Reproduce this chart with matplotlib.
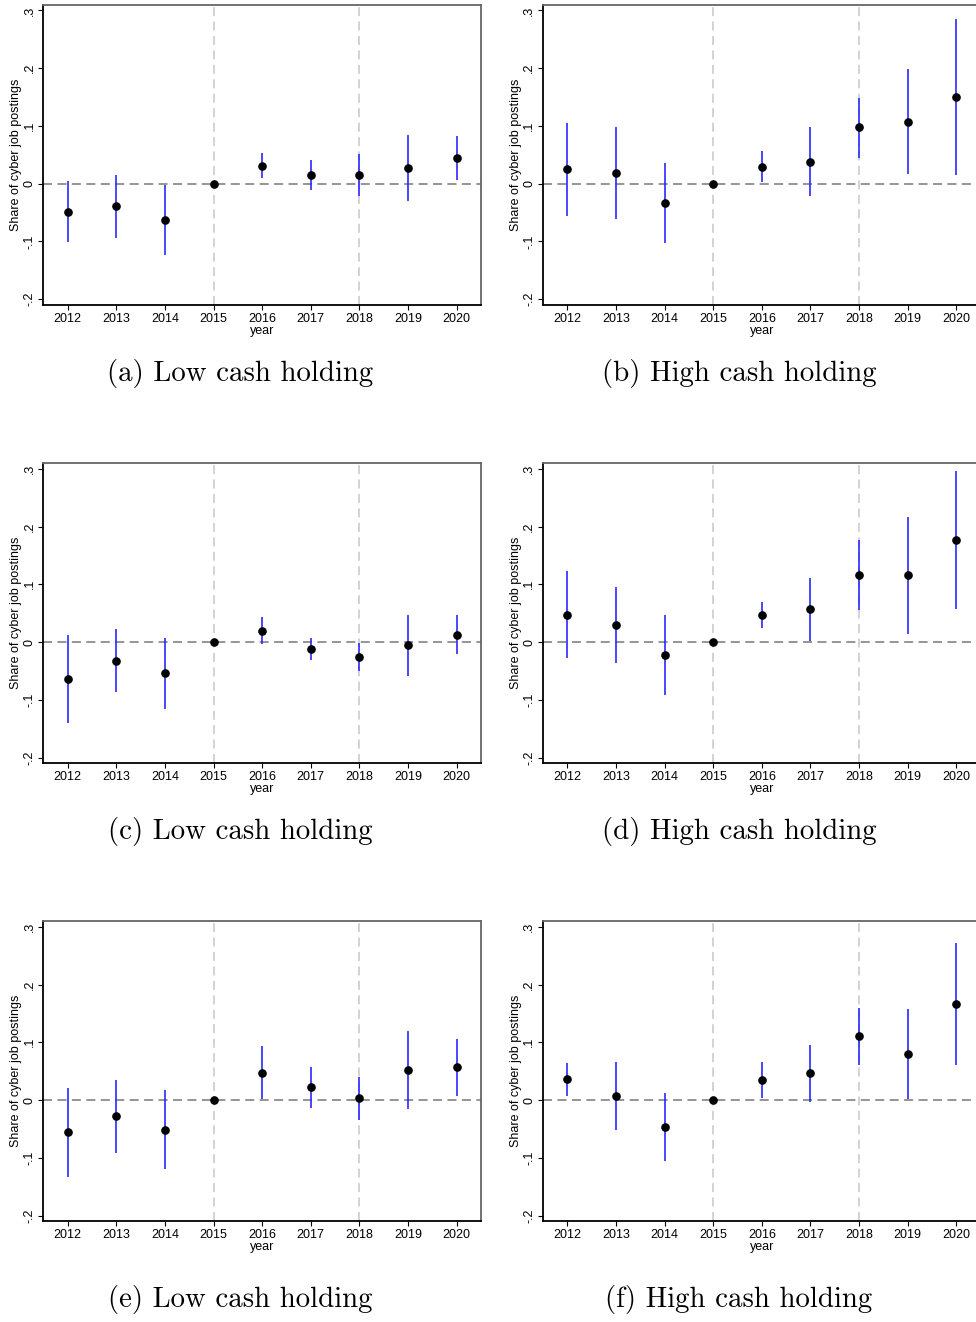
import numpy as np
import matplotlib
matplotlib.use("Agg")
import matplotlib.pyplot as plt

years = [2012, 2013, 2014, 2015, 2016, 2017, 2018, 2019, 2020]
ytick_vals = [-0.2, -0.1, 0, 0.1, 0.2, 0.3]
ytick_labels = ["-.2", "-.1", "0", ".1", ".2", ".3"]
captions = ["(a) Low cash holding", "(b) High cash holding",
            "(c) Low cash holding", "(d) High cash holding",
            "(e) Low cash holding", "(f) High cash holding"]

# point estimates and 95% CI bounds, one list per panel
coef_a = [-0.0485, -0.039, -0.0625, 0, 0.031, 0.0146, 0.0146, 0.0275, 0.0444]
lo_a = [-0.101, -0.094, -0.1227, 0, 0.0099, -0.0117, -0.022, -0.0298, 0.0058]
hi_a = [0.0041, 0.0158, -0.0018, 0, 0.053, 0.0415, 0.0514, 0.0847, 0.083]

coef_b = [0.025, 0.0187, -0.0339, 0, 0.0292, 0.038, 0.0975, 0.1075, 0.1507]
lo_b = [-0.0567, -0.0607, -0.1034, 0, 0.0023, -0.0216, 0.045, 0.017, 0.0158]
hi_b = [0.106, 0.0987, 0.0356, 0, 0.0567, 0.0975, 0.149, 0.1986, 0.2856]

coef_c = [-0.0637, -0.0322, -0.0544, 0, 0.0199, -0.0117, -0.0257, -0.0058, 0.0129]
lo_c = [-0.1398, -0.0865, -0.1152, 0, -0.0041, -0.0304, -0.0503, -0.0596, -0.021]
hi_c = [0.0123, 0.0222, 0.007, 0, 0.0439, 0.007, -0.0012, 0.0474, 0.0468]

coef_d = [0.0474, 0.0292, -0.0228, 0, 0.0468, 0.0567, 0.1158, 0.1152, 0.176]
lo_d = [-0.0269, -0.0368, -0.0918, 0, 0.0251, 0.0018, 0.055, 0.0146, 0.0573]
hi_d = [0.1222, 0.0947, 0.0468, 0, 0.069, 0.1117, 0.1766, 0.2158, 0.2953]

coef_e = [-0.056, -0.028, -0.0514, 0, 0.0473, 0.0222, 0.0029, 0.052, 0.0567]
lo_e = [-0.1338, -0.0911, -0.1186, 0, 0.0023, -0.0134, -0.035, -0.0164, 0.007]
hi_e = [0.0216, 0.035, 0.0169, 0, 0.0929, 0.0578, 0.0403, 0.1203, 0.1063]

coef_f = [0.0356, 0.0064, -0.047, 0, 0.0345, 0.046, 0.110, 0.080, 0.1665]
lo_f = [0.007, -0.0526, -0.106, 0, 0.0035, -0.0035, 0.061, 0.002, 0.061]
hi_f = [0.0648, 0.066, 0.0123, 0, 0.066, 0.096, 0.159, 0.157, 0.2716]

panels = [(coef_a, lo_a, hi_a), (coef_b, lo_b, hi_b),
          (coef_c, lo_c, hi_c), (coef_d, lo_d, hi_d),
          (coef_e, lo_e, hi_e), (coef_f, lo_f, hi_f)]

W, H = 976, 1322
fig = plt.figure(figsize=(W / 100, H / 100), dpi=100)

lefts = [43.3, 543.0]
tops = [4.7, 463.0, 921.0]
ax_w, ax_h = 437.7, 300.3
cap_x = [240, 739]
cap_y = [374, 832, 1300]

for i, (coef, lo, hi) in enumerate(panels):
    row, col = divmod(i, 2)
    l = lefts[col] / W
    b = 1 - (tops[row] + ax_h) / H
    ax = fig.add_axes([l, b, ax_w / W, ax_h / H])
    ax.set_xlim(2011.5, 2020.5)
    ax.set_ylim(-0.21, 0.31)

    ax.axhline(0, color="#8c8c8c", lw=1.3, ls=(0, (5, 3)), zorder=1)
    for xv in [2015, 2018]:
        ax.axvline(xv, color="#d0d0d0", lw=1.3, ls=(0, (5, 3)), zorder=1)

    ax.vlines(years, lo, hi, color="#2a2aff", lw=1.2, zorder=2)
    ax.plot(years, coef, "o", color="black", ms=5.2, zorder=3)

    ax.set_xticks(years)
    ax.set_xticklabels([str(y) for y in years], fontsize=9, family="Liberation Sans")
    ax.set_yticks(ytick_vals)
    ax.set_yticklabels(ytick_labels, fontsize=9, family="Liberation Sans",
                       rotation=90, va="center")
    ax.tick_params(axis="both", length=3.5, width=0.8, pad=2)
    ax.set_xlabel("year", fontsize=9, family="Liberation Sans", labelpad=0)
    ax.set_ylabel("Share of cyber job postings", fontsize=9,
                  family="Liberation Sans", labelpad=1)

    for s in ["left", "bottom"]:
        ax.spines[s].set_color("black")
        ax.spines[s].set_linewidth(1.3)
    for s in ["top", "right"]:
        ax.spines[s].set_color("#666666")
        ax.spines[s].set_linewidth(1.3)

    fig.text(cap_x[col] / W, 1 - cap_y[row] / H, captions[i],
             ha="center", va="center", fontsize=20.8, family="cmr10")

fig.savefig("out.png", dpi=100)
